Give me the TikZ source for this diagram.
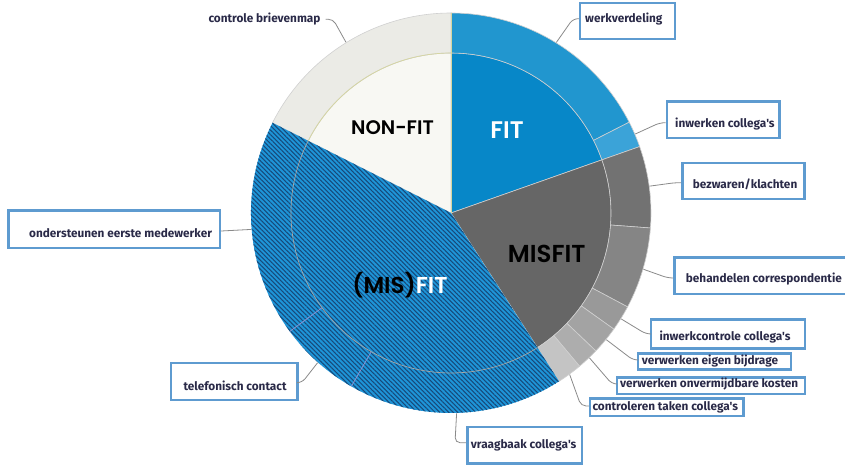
\documentclass[tikz,border=0pt]{standalone}
\usepackage{fontspec}
\setmainfont{Fira Sans}[Ligatures=TeXOff]
\newfontfamily\titlefont{Poppins SemiBold}
\usetikzlibrary{patterns.meta,calc}
\definecolor{fitin}{HTML}{0787C8}
\definecolor{fitout}{HTML}{2196CF}
\definecolor{fitinw}{HTML}{3BA3D8}
\definecolor{misin}{HTML}{666666}
\definecolor{gA}{HTML}{727272}
\definecolor{gB}{HTML}{858585}
\definecolor{gC}{HTML}{999999}
\definecolor{gD}{HTML}{A3A3A3}
\definecolor{gE}{HTML}{ADADAD}
\definecolor{gF}{HTML}{C4C4C4}
\definecolor{nonin}{HTML}{F8F8F3}
\definecolor{nonout}{HTML}{EBEBE6}
\definecolor{hatchb}{HTML}{1E95D8}
\definecolor{hatchd}{HTML}{17497A}
\definecolor{boxblue}{HTML}{5E9BD0}
\definecolor{txt}{HTML}{2A2A48}
\definecolor{connc}{HTML}{8A8A8A}
\definecolor{segline}{HTML}{D0D0D0}
\definecolor{nfline}{HTML}{D6D6A0}
\newcommand\ringseg[3]{\path[fill=#1,draw=segline,line width=.6pt,shift={(451,253)}] (#2:200) arc[start angle=#2,end angle=#3,radius=200] -- (#3:160) arc[start angle=#3,end angle=#2,radius=160] -- cycle;}
\newcommand\pieseg[3]{\path[fill=#1,draw=segline,line width=.6pt,shift={(451,253)}] (0,0) -- (#2:160) arc[start angle=#2,end angle=#3,radius=160] -- cycle;}
\begin{document}
\begin{tikzpicture}[x=1pt,y=1pt,
  lbox/.style={draw=boxblue,line width=2.4pt,fill=white,inner sep=0pt},
  ltext/.style={anchor=west,inner sep=0pt,text=txt,font=\bfseries\fontsize{11.8}{13}\selectfont},
  conn/.style={draw=connc,line width=.8pt,rounded corners=5pt},
  title/.style={anchor=base,inner sep=0pt}]
\useasboundingbox (0,0) rectangle (845,466);
\coordinate (C) at (451,253);
% inner pie
\pieseg{fitin}{19.4}{90}
\pieseg{misin}{-57.3}{19.4}
\pieseg{nonin}{90}{153.2}
% outer ring
\ringseg{fitout}{27}{90}
\ringseg{fitinw}{19.4}{27}
\ringseg{gA}{-4.3}{19.4}
\ringseg{gB}{-28}{-4.3}
\ringseg{gC}{-35.5}{-28}
\ringseg{gD}{-43.6}{-35.5}
\ringseg{gE}{-50}{-43.6}
\ringseg{gF}{-57.3}{-50}
\ringseg{nonout}{90}{153.2}
% hatched (MIS)FIT
\fill[hatchb,shift={(451,253)}] (0,0) -- (-206.8:200) arc[start angle=-206.8,end angle=-57.3,radius=200] -- cycle;
\fill[pattern={Lines[angle=-45,distance=3.2pt,line width=1.05pt]},pattern color=hatchd,shift={(451,253)}] (0,0) -- (-206.8:200) arc[start angle=-206.8,end angle=-57.3,radius=200] -- cycle;
\draw[gray!70,line width=.7pt,shift={(451,253)}] (-206.8:160) arc[start angle=-206.8,end angle=-57.3,radius=160];
\draw[gray!60!blue!60,line width=.7pt,shift={(451,253)}] (-119.9:160) -- (-119.9:200) (-143.7:160) -- (-143.7:200);
% non-fit edge lines
\draw[nfline,line width=.7pt] (C) -- ++(90:200);
\draw[nfline,line width=.7pt,shift={(451,253)}] (90:160) arc[start angle=90,end angle=153.2,radius=160];
% ring points for connectors
\foreach \n/\a in {r12/121.6,r1/58.3,r2/23.2,r3/7.7,r4/-16.3,r5/-31.9,r6/-39.2,r7/-46.3,r8/-53.7,r9/-88.4,r10/-131.7,r11/184.7}
  \coordinate (\n) at ($(C)+(\a:200.5)$);
% knees
\coordinate (k12) at (333,447);
\coordinate (k1) at (573,447.3);
\coordinate (k2) at (660,343.3);
\coordinate (k3) at (675,283.3);
\coordinate (k4) at (668,188);
\coordinate (k5) at (646,132);
\coordinate (k6) at (633,106);
\coordinate (k7) at (612,82);
\coordinate (k8) at (581,60);
\coordinate (k9) at (455,23.3);
\coordinate (k10) at (302,83.3);
\coordinate (k11) at (235,235);
% boxes
\node[lbox,minimum width=95pt,minimum height=36pt] (b1) at (627.5,444.7) {};
\node[lbox,minimum width=112.6pt,minimum height=36.6pt] (b2) at (723,346) {};
\node[lbox,minimum width=122pt,minimum height=36pt] (b3) at (743.3,284.7) {};
\node[lbox,minimum width=174.7pt,minimum height=36.6pt] (b4) at (761.65,190) {};
\node[lbox,minimum width=154pt,minimum height=29pt] (b5) at (728,132.2) {};
\node[lbox,minimum width=153pt,minimum height=16pt] (b6) at (714.2,104.7) {};
\node[lbox,minimum width=188.3pt,minimum height=16.7pt] (b7) at (710.85,80.35) {};
\node[lbox,minimum width=153.3pt,minimum height=17.7pt] (b8) at (666.65,58.85) {};
\node[lbox,minimum width=114.4pt,minimum height=36.6pt] (b9) at (524.5,21) {};
\node[lbox,minimum width=126.6pt,minimum height=37.3pt] (b10) at (234,84.65) {};
\node[lbox,minimum width=211.7pt,minimum height=37.6pt] (b11) at (114.15,236.5) {};
% texts
\node[ltext] (t1) at (585,446.5) {werkverdeling};
\node[ltext] (t2) at (675,342) {inwerken collega's};
\node[ltext] (t3) at (692.7,282) {bezwaren/klachten};
\node[ltext] (t4) at (685.7,186.7) {behandelen correspondentie};
\node[ltext] (t5) at (659.3,128.7) {inwerkcontrole collega's};
\node[ltext] (t6) at (641.7,105) {verwerken eigen bijdrage};
\node[ltext] (t7) at (620,81.7) {verwerken onvermijdbare kosten};
\node[ltext] (t8) at (592.3,59) {controleren taken collega's};
\node[ltext] (t9) at (470.7,21) {vraagbaak collega's};
\node[ltext] (t10) at (183.3,80.3) {telefonisch contact};
\node[ltext] (t11) at (29,233.3) {ondersteunen eerste medewerker};
\node[ltext] (t12) at (208.3,446.7) {controle brievenmap};
% connectors
\draw[conn] ($(t12.east)+(5,0)$) -- (k12) -- (r12);
\draw[conn] (b1.west |- k1) -- (k1) -- (r1);
\draw[conn] (b2.west |- k2) -- (k2) -- (r2);
\draw[conn] (b3.west |- k3) -- (k3) -- (r3);
\draw[conn] (b4.west |- k4) -- (k4) -- (r4);
\draw[conn] (b5.west |- k5) -- (k5) -- (r5);
\draw[conn] (b6.west |- k6) -- (k6) -- (r6);
\draw[conn] (b7.west |- k7) -- (k7) -- (r7);
\draw[conn] (b8.west |- k8) -- (k8) -- (r8);
\draw[conn] (b9.west |- k9) -- (k9) -- (r9);
\draw[conn] (b10.east |- k10) -- (k10) -- (r10);
\draw[conn] (b11.east |- k11) -- (r11);
% titles
\node[title,font=\titlefont\fontsize{19.6}{20}\selectfont,text=black] (nonfit) at (392.5,331) {NON-FIT};
\node[title,font=\titlefont\fontsize{24}{24}\selectfont,text=white] (fit) at (507,327.7) {FIT};
\node[title,font=\titlefont\fontsize{24.5}{25}\selectfont,text=black] (misfit) at (546.7,203.3) {MISFIT};
\node[title,font=\titlefont\fontsize{23}{23}\selectfont,text=black] (misfit2) at (400,172) {(MIS)\textcolor{white}{FIT}};
\end{tikzpicture}
\end{document}
